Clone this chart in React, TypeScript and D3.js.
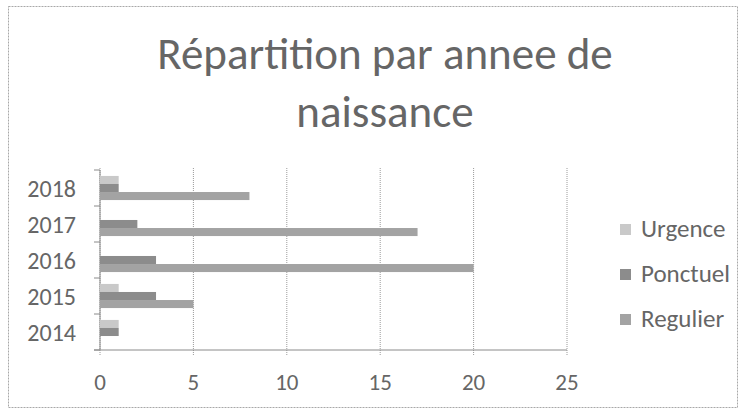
import { useEffect, useRef } from 'react';
import * as d3 from 'd3';

const years = ['2018', '2017', '2016', '2015', '2014'];
const seriesNames = ['Urgence', 'Ponctuel', 'Regulier'];
const urgence = [1, 0, 0, 1, 1];
const ponctuel = [1, 2, 3, 3, 1];
const regulier = [8, 17, 20, 5, 0];
const xTicks = [0, 5, 10, 15, 20, 25];
const titleLines = ['Répartition par annee de', 'naissance'];

const colors = ['#c9c9c9', '#8c8c8c', '#a3a3a3'];

export default function App() {
  const svgRef = useRef<SVGSVGElement | null>(null);
  const width = 743;
  const height = 410;

  useEffect(() => {
    const svg = d3.select(svgRef.current);
    svg.selectAll('*').remove();

    const font = 'Carlito, "Open Sans", "Liberation Sans", sans-serif';
    const values = [urgence, ponctuel, regulier];

    svg.append('rect')
      .attr('x', 8.5).attr('y', 6.5)
      .attr('width', 729).attr('height', 401)
      .attr('fill', '#fff')
      .attr('stroke', '#a8a8a8')
      .attr('stroke-dasharray', '2,1');

    titleLines.forEach((t, i) => {
      svg.append('text')
        .attr('x', 385)
        .attr('y', 69 + i * 58)
        .attr('text-anchor', 'middle')
        .attr('fill', '#666')
        .style('font-family', font)
        .style('font-size', '45px')
        .text(t);
    });

    const x = d3.scaleLinear().domain([0, 25]).range([100, 567]);
    const y = d3.scaleBand().domain(years).range([170, 350]).paddingInner(0.33).paddingOuter(0.165);
    const inner = d3.scaleBand().domain(seriesNames).range([0, y.bandwidth()]);

    xTicks.forEach(t => {
      svg.append('line')
        .attr('x1', x(t)).attr('x2', x(t))
        .attr('y1', 168).attr('y2', 356)
        .attr('stroke', '#9a9a9a')
        .attr('stroke-dasharray', '1,1');
      svg.append('text')
        .attr('x', x(t))
        .attr('y', 390)
        .attr('text-anchor', 'middle')
        .attr('fill', '#666')
        .style('font-family', font)
        .style('font-size', '23px')
        .text(t);
    });

    svg.append('line')
      .attr('x1', 94).attr('x2', x(25))
      .attr('y1', 350).attr('y2', 350)
      .attr('stroke', '#8a8a8a');
    svg.append('line')
      .attr('x1', 100).attr('x2', 100)
      .attr('y1', 170).attr('y2', 350)
      .attr('stroke', '#8a8a8a');

    const bandStep = 36;
    for (let i = 0; i <= years.length; i++) {
      svg.append('line')
        .attr('x1', 94).attr('x2', 100)
        .attr('y1', 170 + i * bandStep).attr('y2', 170 + i * bandStep)
        .attr('stroke', '#8a8a8a');
    }

    years.forEach((yr, i) => {
      svg.append('text')
        .attr('x', 76)
        .attr('y', (y(yr) ?? 0) + y.bandwidth() / 2 + 9)
        .attr('text-anchor', 'end')
        .attr('fill', '#666')
        .style('font-family', font)
        .style('font-size', '24px')
        .text(yr);
      seriesNames.forEach((s, j) => {
        const v = values[j][i];
        if (v <= 0) return;
        svg.append('rect')
          .attr('x', x(0))
          .attr('y', (y(yr) ?? 0) + (inner(s) ?? 0))
          .attr('width', x(v) - x(0))
          .attr('height', inner.bandwidth())
          .attr('fill', colors[j]);
      });
    });

    const legendY = [229, 274, 319];
    seriesNames.forEach((s, j) => {
      svg.append('rect')
        .attr('x', 620).attr('y', legendY[j] - 5)
        .attr('width', 11).attr('height', 11)
        .attr('fill', colors[j]);
      svg.append('text')
        .attr('x', 641)
        .attr('y', legendY[j] + 8)
        .attr('fill', '#666')
        .style('font-family', font)
        .style('font-size', '25px')
        .text(s);
    });
  }, []);

  return (
    <div style={{ position: 'fixed', left: 0, top: 0 }}>
      <svg ref={svgRef} width={width} height={height}></svg>
    </div>
  );
}
